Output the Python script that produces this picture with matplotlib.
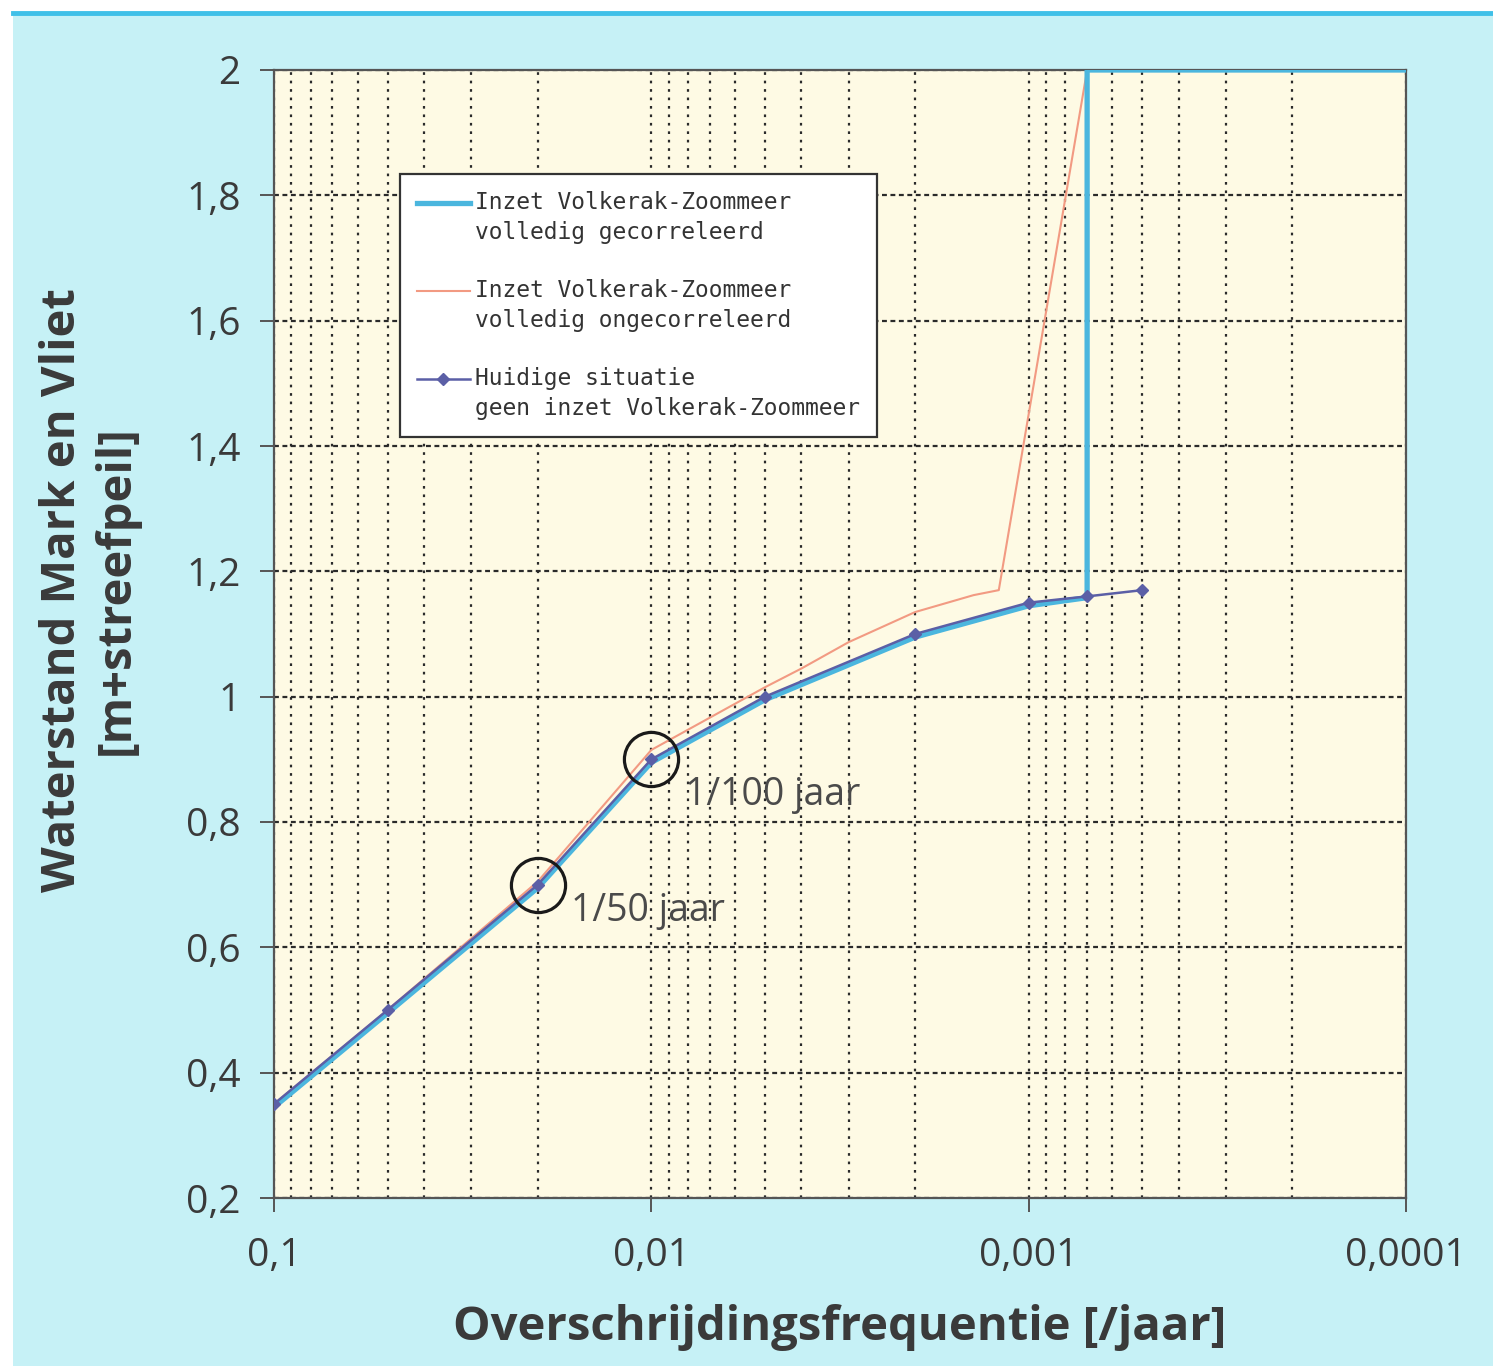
import numpy as np
import matplotlib
matplotlib.use("Agg")
import matplotlib.pyplot as plt
from matplotlib.ticker import FixedLocator, FixedFormatter, LogLocator, NullFormatter
from matplotlib.legend_handler import HandlerLine2D
from matplotlib.patches import Rectangle
from matplotlib.lines import Line2D

# ---------------- data ----------------
freq_huidig = [0.1, 0.05, 0.02, 0.01, 0.005, 0.002, 0.001, 0.0007, 0.0005]
wl_huidig = [0.35, 0.50, 0.70, 0.90, 1.00, 1.10, 1.15, 1.16, 1.17]

freq_gecor = [0.1, 0.05, 0.02, 0.01, 0.005, 0.002, 0.001, 0.0007, 0.0007, 0.0001]
wl_gecor = [0.345, 0.495, 0.695, 0.895, 0.995, 1.095, 1.145, 1.158, 2.0, 2.0]

freq_ongecor = [0.1, 0.05, 0.02, 0.01, 0.005, 0.004, 0.003, 0.002, 0.0014, 0.0012, 0.0007, 0.0001]
wl_ongecor = [0.35, 0.50, 0.705, 0.915, 1.015, 1.045, 1.087, 1.135, 1.162, 1.17, 2.0, 2.0]

label_gecor = "Inzet Volkerak-Zoommeer\nvolledig gecorreleerd"
label_ongecor = "Inzet Volkerak-Zoommeer\nvolledig ongecorreleerd"
label_huidig = "Huidige situatie\ngeen inzet Volkerak-Zoommeer"

x_ticks = [0.1, 0.01, 0.001, 0.0001]
x_ticklabels = ["0,1", "0,01", "0,001", "0,0001"]
y_ticks = [0.2, 0.4, 0.6, 0.8, 1.0, 1.2, 1.4, 1.6, 1.8, 2.0]
y_ticklabels = ["0,2", "0,4", "0,6", "0,8", "1", "1,2", "1,4", "1,6", "1,8", "2"]

mark_freq = [0.01, 0.02]
mark_wl = [0.9, 0.7]
mark_text = ["1/100 jaar", "1/50 jaar"]

xlabel = "Overschrijdingsfrequentie [/jaar]"
ylabel = "Waterstand Mark en Vliet\n[m+streefpeil]"

# ---------------- style ----------------
OUTER = "#c6f1f6"
INNER = "#fefae4"
TXT = "#3a3a3a"
C_CYAN = "#4bb6de"
C_ORANGE = "#f29a82"
C_PURPLE = "#5b5fa6"
GRID = "#2a2a2a"
W, H = 1493, 1366
DPI = 100

plt.rcParams['font.family'] = ['Open Sans', 'DejaVu Sans']

fig = plt.figure(figsize=(W / DPI, H / DPI), dpi=DPI, facecolor="white")
fig.patches.append(Rectangle((13 / W, 0), 1 - 13 / W, 1 - 15 / H, transform=fig.transFigure,
                             facecolor=OUTER, edgecolor="none", zorder=-2))
fig.lines.append(Line2D([13 / W, 1], [1 - 13 / H, 1 - 13 / H], transform=fig.transFigure,
                        color="#3fc0e8", lw=3.5, zorder=-1))

ax = fig.add_axes([274 / W, 1 - 1198 / H, (1406 - 274) / W, (1198 - 70) / H])
ax.set_facecolor(INNER)

ax.set_xscale("log")
ax.set_xlim(0.1, 0.0001)
ax.set_ylim(0.2, 2.0)

# grid
ax.xaxis.set_major_locator(FixedLocator(x_ticks))
ax.xaxis.set_major_formatter(FixedFormatter(x_ticklabels))
ax.xaxis.set_minor_locator(LogLocator(base=10, subs=np.arange(2, 10)))
ax.xaxis.set_minor_formatter(NullFormatter())
ax.yaxis.set_major_locator(FixedLocator(y_ticks))
ax.yaxis.set_major_formatter(FixedFormatter(y_ticklabels))

ax.grid(True, axis="x", which="both", color=GRID, lw=1.6, linestyle=(0, (1.2, 2.6)))
ax.grid(True, axis="y", which="major", color=GRID, lw=1.6, linestyle=(0, (2.2, 1.6)))
ax.set_axisbelow(True)

for side in ["left", "bottom", "top", "right"]:
    ax.spines[side].set_color("#555555")
    ax.spines[side].set_linewidth(1.6)

ax.tick_params(axis="both", which="major", direction="out", length=10, width=1.4,
               color="#555555", labelsize=28, labelcolor=TXT)
ax.tick_params(axis="x", which="minor", length=0)
ax.tick_params(axis="y", pad=14)
ax.tick_params(axis="x", pad=18)

# lines
ax.plot(freq_gecor, wl_gecor, color=C_CYAN, lw=3.8, solid_joinstyle="round", zorder=3,
        label=label_gecor)
ax.plot(freq_ongecor, wl_ongecor, color=C_ORANGE, lw=1.5, zorder=2.5, label=label_ongecor)
ax.plot(freq_huidig, wl_huidig, color=C_PURPLE, lw=1.8, marker="D", ms=6.5, zorder=4,
        label=label_huidig)

# circles + annotations
ax.plot(mark_freq, mark_wl, linestyle="none", marker="o", ms=39, mfc="none", mec="#1a1a1a",
        mew=2.3, zorder=5)
offsets = [(24, -26), (24, -19)]
for fx, wy, t, off in zip(mark_freq, mark_wl, mark_text, offsets):
    ax.annotate(t, (fx, wy), xytext=off, textcoords="offset points", ha="left", va="center",
                fontsize=27, color="#4a4a4a")

# labels
ax.set_xlabel(xlabel, fontsize=34, fontweight="bold", color=TXT)
ax.xaxis.set_label_coords(0.5, -0.115)
ax.xaxis.label.set_va("center")
ax.set_ylabel(ylabel, fontsize=34, fontweight="bold", color=TXT, linespacing=1.2)
ax.yaxis.set_label_coords(-0.163, 0.539)
ax.yaxis.label.set_va("center")


class TopLineHandler(HandlerLine2D):
    def __init__(self, shift, **kw):
        super().__init__(**kw)
        self.shift = shift

    def create_artists(self, legend, orig_handle, xdescent, ydescent, width, height,
                       fontsize, trans):
        arts = super().create_artists(legend, orig_handle, xdescent, ydescent, width, height,
                                      fontsize, trans)
        for a in arts:
            a.set_ydata(np.asarray(a.get_ydata(), dtype=float) + self.shift)
        return arts


handles, labels = ax.get_legend_handles_labels()
shift = 11.2
leg = ax.legend(handles, labels, loc="upper left", bbox_to_anchor=(0.111, 0.908),
                prop={"family": "DejaVu Sans Mono", "size": 16.5},
                frameon=True, fancybox=False, framealpha=1, edgecolor="#333333",
                handlelength=2.3, handletextpad=0.25, labelspacing=1.55,
                borderpad=0.75, borderaxespad=0,
                handler_map={h: TopLineHandler(shift) for h in handles})
leg.get_frame().set_linewidth(1.6)
for t in leg.get_texts():
    t.set_color("#333333")
    t.set_linespacing(1.37)
leg.set_zorder(6)

fig.savefig("out.png", dpi=DPI, facecolor=fig.get_facecolor())
